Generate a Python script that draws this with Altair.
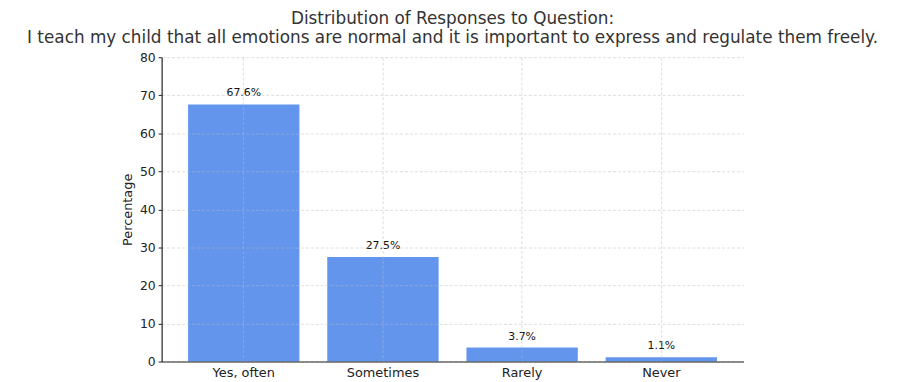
import altair as alt
import pandas as pd

categories = ["Yes, often", "Sometimes", "Rarely", "Never"]
percentages = [67.6, 27.5, 3.7, 1.1]
labels = ["67.6%", "27.5%", "3.7%", "1.1%"]
y_ticks = [0, 10, 20, 30, 40, 50, 60, 70, 80]

df = pd.DataFrame({"Response": categories, "Percentage": percentages, "Label": labels})

FONT = "DejaVu Sans"

x_enc = alt.X(
    "Response:N",
    sort=None,
    scale=alt.Scale(paddingInner=0.2, paddingOuter=0.19),
    axis=alt.Axis(
        title=None,
        labelAngle=0,
        labelFontSize=13,
        labelFont=FONT,
        labelColor="#222222",
        labelPadding=5,
        ticks=False,
        grid=True,
        gridColor="#bbbbbb",
        gridDash=[3, 2],
        gridWidth=0.7,
        gridOpacity=0.7,
        domainColor="#222222",
        domainWidth=1.2,
        zindex=1,
    ),
)
y_enc = alt.Y(
    "Percentage:Q",
    scale=alt.Scale(domain=[0, 80], nice=False),
    axis=alt.Axis(
        title="Percentage",
        titleFontSize=13,
        titleFont=FONT,
        titleFontWeight="normal",
        titleColor="#222222",
        titlePadding=5,
        values=y_ticks,
        labelOverlap=False,
        labelFontSize=12.5,
        labelFont=FONT,
        labelColor="#222222",
        labelPadding=3,
        tickSize=3.5,
        tickColor="#222222",
        grid=True,
        gridColor="#bbbbbb",
        gridDash=[3, 2],
        gridWidth=0.7,
        gridOpacity=0.7,
        domainColor="#222222",
        domainWidth=1.2,
        zindex=1,
    ),
)

bars = alt.Chart(df).mark_bar(color="#6495ED").encode(x=x_enc, y=y_enc)

text = alt.Chart(df).mark_text(
    baseline="bottom", dy=-6, fontSize=11, font=FONT, color="#111111"
).encode(x=x_enc, y=y_enc, text="Label:N")

chart = (
    alt.layer(bars, text)
    .properties(
        width=587,
        height=307,
        autosize=alt.AutoSizeParams(type="none"),
        padding={"left": 155, "top": 48, "right": 162, "bottom": 19},
        title=alt.TitleParams(
            text=[
                "Distribution of Responses to Question:",
                "I teach my child that all emotions are normal and it is important to express and regulate them freely.",
            ],
            anchor="middle",
            fontSize=17,
            font=FONT,
            fontWeight="normal",
            color="#333333",
            lineHeight=20,
            offset=4,
        ),
    )
    .configure_view(stroke=None)
)

chart.save("out.html", embed_options={"renderer": "svg", "actions": False})
